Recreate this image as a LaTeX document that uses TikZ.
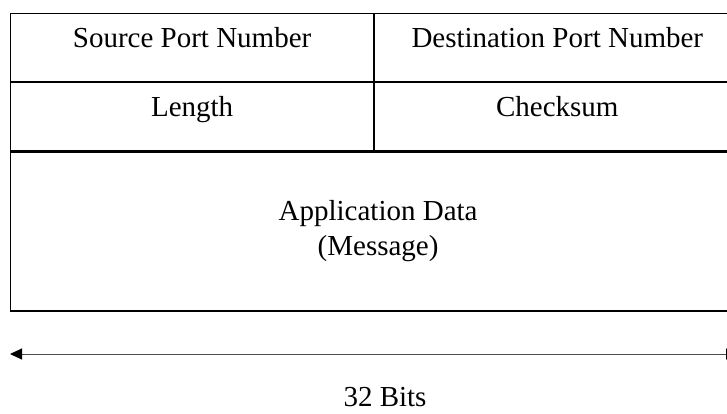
\documentclass[tikz,border=0pt]{standalone}
\usepackage{fontspec}
\setmainfont{Liberation Serif}
\usetikzlibrary{arrows.meta,positioning}

\begin{document}
\begin{tikzpicture}[x=1pt,y=-1pt,
  frame/.style={draw,line width=1.2pt,inner sep=0pt,anchor=north west,font=\fontsize{29}{35}\selectfont},
  cell/.style={frame,minimum height=68pt,text height=10pt,text depth=10pt},
  span/.style={{Triangle[length=12pt,width=11pt,color=black]}-{Triangle[length=12pt,width=11pt,color=black]},line width=1pt,black!70}]
  \useasboundingbox (0,0) rectangle (727,413);
  \clip (0,0) rectangle (727,413);
  % Header fields
  \node[cell,minimum width=363pt] (src) at (10,13) {Source Port Number};
  \node[cell,minimum width=365pt] (dst) at (src.north east) {Destination Port Number};
  \node[cell,minimum width=363pt] (len) at (src.south west) {Length};
  \node[cell,minimum width=365pt] (chk) at (dst.south west) {Checksum};
  % Payload
  \node[frame,minimum width=735pt,minimum height=159pt,align=center] (app) at (len.south west) {Application Data\\(Message)};
  % Width
  \coordinate (wl) at (10,354);
  \coordinate (wr) at (738,354);
  \draw[span] (wl) -- (wr);
  \node[font=\fontsize{29}{35}\selectfont] (bits) at (385,397) {32 Bits};
\end{tikzpicture}
\end{document}
